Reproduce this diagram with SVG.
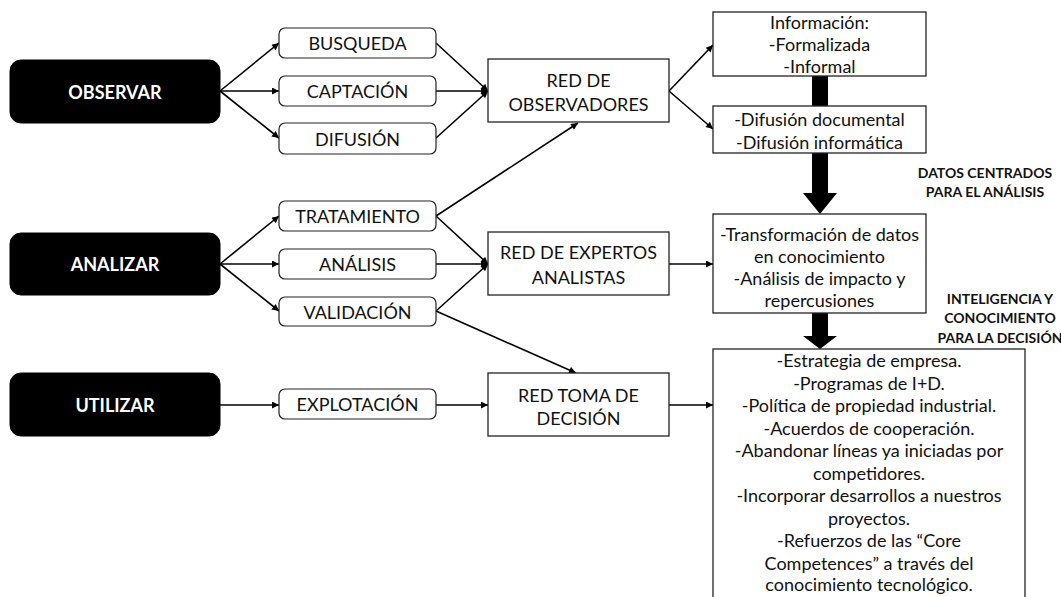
<svg xmlns="http://www.w3.org/2000/svg" width="1061" height="597" viewBox="0 0 1061 597">
<style>
text{font-family:Lato,"Open Sans","Liberation Sans",sans-serif;font-size:18px;fill:#111;text-anchor:middle;dominant-baseline:central}
.blk{fill:#000;stroke:#000}
text.w{fill:#fff;font-weight:bold}
.sm{fill:#fff;stroke:#222;stroke-width:1.2}
.bx{fill:#fff;stroke:#222;stroke-width:1.3}
.ln{fill:none;stroke:#000;stroke-width:1.6;marker-end:url(#ah)}
.lbl{font-weight:bold;font-size:14px}
.thick{fill:#000}
</style>
<defs>
<marker id="ah" viewBox="0 0 10 10" refX="10" refY="5" markerWidth="9" markerHeight="7" markerUnits="userSpaceOnUse" orient="auto">
<path d="M0,0 L10,5 L0,10 z" fill="#000"/>
</marker>
</defs>
<rect width="1061" height="597" fill="#fff"/>

<g id="connectors">
<line class="ln" x1="220" y1="91" x2="279" y2="43"/>
<line class="ln" x1="220" y1="91" x2="279" y2="91"/>
<line class="ln" x1="220" y1="91" x2="279" y2="138"/>
<line class="ln" x1="436" y1="43" x2="488" y2="91"/>
<line class="ln" x1="436" y1="91" x2="488" y2="91"/>
<line class="ln" x1="436" y1="138" x2="488" y2="91"/>
<line class="ln" x1="669" y1="91" x2="713" y2="45"/>
<line class="ln" x1="669" y1="91" x2="713" y2="129"/>
<line class="ln" x1="220" y1="264" x2="279" y2="216"/>
<line class="ln" x1="220" y1="264" x2="279" y2="264"/>
<line class="ln" x1="220" y1="264" x2="279" y2="311"/>
<line class="ln" x1="436" y1="216" x2="578" y2="123"/>
<line class="ln" x1="436" y1="216" x2="488" y2="264"/>
<line class="ln" x1="436" y1="264" x2="488" y2="264"/>
<line class="ln" x1="436" y1="311" x2="488" y2="264"/>
<line class="ln" x1="436" y1="311" x2="576" y2="373"/>
<line class="ln" x1="669" y1="264" x2="713" y2="264"/>
<line class="ln" x1="220" y1="405" x2="279" y2="405"/>
<line class="ln" x1="436" y1="405" x2="488" y2="405"/>
<line class="ln" x1="669" y1="405" x2="713" y2="405"/>
<rect class="thick" x="812" y="76" width="16" height="30"/>
<path class="thick" d="M812,153 H828 V193 H837 L820,214 L803,193 H812 Z"/>
<path class="thick" d="M812,313 H828 V336 H837 L820,349 L803,336 H812 Z"/>
</g>

<g id="observar"><rect class="blk" x="10" y="60" width="210" height="63" rx="11"/><text class="w" x="115" y="92">OBSERVAR</text></g>
<g id="analizar"><rect class="blk" x="10" y="233" width="210" height="62" rx="11"/><text class="w" x="115" y="264">ANALIZAR</text></g>
<g id="utilizar"><rect class="blk" x="10" y="373" width="210" height="63" rx="11"/><text class="w" x="115" y="405">UTILIZAR</text></g>

<g id="busqueda"><rect class="sm" x="279" y="28" width="157" height="30" rx="6"/><text x="357.5" y="43">BUSQUEDA</text></g>
<g id="captacion"><rect class="sm" x="279" y="76" width="157" height="30" rx="6"/><text x="357.5" y="91">CAPTACIÓN</text></g>
<g id="difusion"><rect class="sm" x="279" y="123" width="157" height="31" rx="6"/><text x="357.5" y="138.5">DIFUSIÓN</text></g>
<g id="tratamiento"><rect class="sm" x="279" y="201" width="157" height="30" rx="6"/><text x="357.5" y="216">TRATAMIENTO</text></g>
<g id="analisis"><rect class="sm" x="279" y="249" width="157" height="30" rx="6"/><text x="357.5" y="264">ANÁLISIS</text></g>
<g id="validacion"><rect class="sm" x="279" y="297" width="157" height="29" rx="6"/><text x="357.5" y="311.5">VALIDACIÓN</text></g>
<g id="explotacion"><rect class="sm" x="279" y="389" width="157" height="30" rx="6"/><text x="357.5" y="404">EXPLOTACIÓN</text></g>

<g id="red-observadores"><rect class="bx" x="488" y="59" width="181" height="63"/><text x="578.5" y="80">RED DE</text><text x="578.5" y="104">OBSERVADORES</text></g>
<g id="red-expertos"><rect class="bx" x="488" y="232" width="181" height="63"/><text x="578.5" y="252">RED DE EXPERTOS</text><text x="578.5" y="277">ANALISTAS</text></g>
<g id="red-toma"><rect class="bx" x="488" y="373" width="181" height="63"/><text x="578.5" y="395">RED TOMA DE</text><text x="578.5" y="418">DECISIÓN</text></g>

<g id="informacion"><rect class="bx" x="713" y="12" width="213" height="64"/><text x="819.5" y="22">Información:</text><text x="819.5" y="44">-Formalizada</text><text x="819.5" y="66">-Informal</text></g>
<g id="difusion-doc"><rect class="bx" x="713" y="106" width="213" height="47"/><text x="819.5" y="119">-Difusión documental</text><text x="819.5" y="142">-Difusión informática</text></g>
<g id="transformacion"><rect class="bx" x="713" y="214" width="213" height="99"/><text x="819.5" y="234">-Transformación de datos</text><text x="819.5" y="256">en conocimiento</text><text x="819.5" y="278">-Análisis de impacto y</text><text x="819.5" y="300">repercusiones</text></g>
<g id="decisiones"><rect class="bx" x="713" y="349" width="312" height="260"/>
<text x="869" y="360">-Estrategia de empresa.</text>
<text x="869" y="382.5">-Programas de I+D.</text>
<text x="869" y="405">-Política de propiedad industrial.</text>
<text x="869" y="427.5">-Acuerdos de cooperación.</text>
<text x="869" y="450">-Abandonar líneas ya iniciadas por</text>
<text x="869" y="472.5">competidores.</text>
<text x="869" y="495">-Incorporar desarrollos a nuestros</text>
<text x="869" y="517.5">proyectos.</text>
<text x="869" y="540">-Refuerzos de las “Core</text>
<text x="869" y="562.5">Competences” a través del</text>
<text x="869" y="584">conocimiento tecnológico.</text>
</g>

<g id="label-datos"><text class="lbl" x="985" y="172">DATOS CENTRADOS</text><text class="lbl" x="985" y="191">PARA EL ANÁLISIS</text></g>
<g id="label-inteligencia"><text class="lbl" x="1000" y="298">INTELIGENCIA Y</text><text class="lbl" x="1000" y="317">CONOCIMIENTO</text><text class="lbl" x="1000" y="337">PARA LA DECISIÓN</text></g>
</svg>
